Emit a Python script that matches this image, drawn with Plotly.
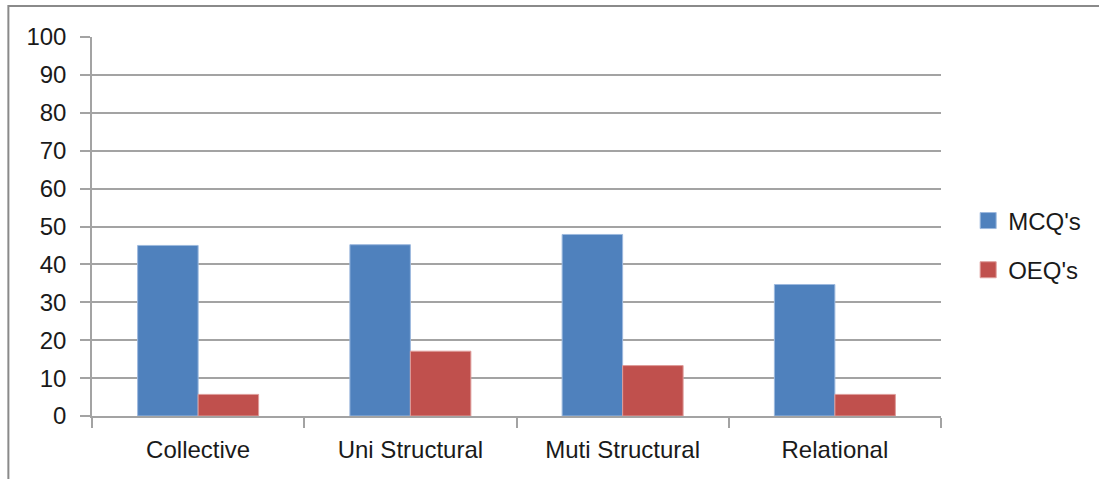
import plotly.graph_objects as go

categories = ["Collective", "Uni Structural", "Muti Structural", "Relational"]
mcq_values = [45.0, 45.2, 47.9, 34.7]
oeq_values = [5.7, 17.1, 13.3, 5.7]
series_names = ["MCQ's", "OEQ's"]
y_ticks = [0, 10, 20, 30, 40, 50, 60, 70, 80, 90, 100]

BLUE = "#4F81BD"
RED = "#C0504D"
BLUE_EDGE = "#9DB9DE"
RED_EDGE = "#DE9C9A"
FONT = "Liberation Sans"
TEXT = "#1a1a1a"
GRID = "#a3a3a3"

fig = go.Figure()
for name, vals, col, edge in [
    (series_names[0], mcq_values, BLUE, BLUE_EDGE),
    (series_names[1], oeq_values, RED, RED_EDGE),
]:
    fig.add_trace(go.Bar(
        x=categories, y=vals, name=name, showlegend=False,
        marker=dict(color=col, line=dict(color=edge, width=1)),
    ))

# legend swatches as square markers
for i, (name, col, edge) in enumerate([
    (series_names[0], BLUE, BLUE_EDGE),
    (series_names[1], RED, RED_EDGE),
]):
    fig.add_trace(go.Scatter(
        x=[None], y=[None], mode="markers", name=name,
        legendgroup=f"g{i}",
        marker=dict(symbol="square", size=16, color=col,
                    line=dict(color=edge, width=1)),
    ))

fig.update_layout(
    width=1099, height=479,
    margin=dict(l=92, r=158, t=37, b=63, pad=0),
    paper_bgcolor="white", plot_bgcolor="white",
    font=dict(family=FONT, size=24, color=TEXT),
    barmode="group", bargap=0.43, bargroupgap=0,
    legend=dict(
        x=1.032, xanchor="left", y=0.574, yanchor="top",
        traceorder="grouped", tracegroupgap=15,
        font=dict(family=FONT, size=24, color=TEXT),
        itemwidth=30, bgcolor="rgba(0,0,0,0)",
    ),
    xaxis=dict(
        type="category", tickson="boundaries",
        showgrid=False, ticks="outside", ticklen=10, tickwidth=1.5,
        tickcolor=GRID, showline=True, linecolor=GRID, linewidth=1.5,
        ticklabelstandoff=11, zeroline=False,
    ),
    yaxis=dict(
        range=[0, 100], tickvals=y_ticks,
        showgrid=True, gridcolor=GRID, gridwidth=1.5,
        ticks="outside", ticklen=10, tickwidth=1.5, tickcolor=GRID,
        showline=True, linecolor=GRID, linewidth=1.5,
        ticklabelstandoff=9, zeroline=False,
    ),
    shapes=[dict(
        type="rect", xref="paper", yref="paper",
        x0=-0.0985, x1=1.3, y0=-0.4, y1=1.082,
        line=dict(color="#8a8a8a", width=2), fillcolor="rgba(0,0,0,0)",
        layer="below",
    )],
)

fig.write_html("out.html")
